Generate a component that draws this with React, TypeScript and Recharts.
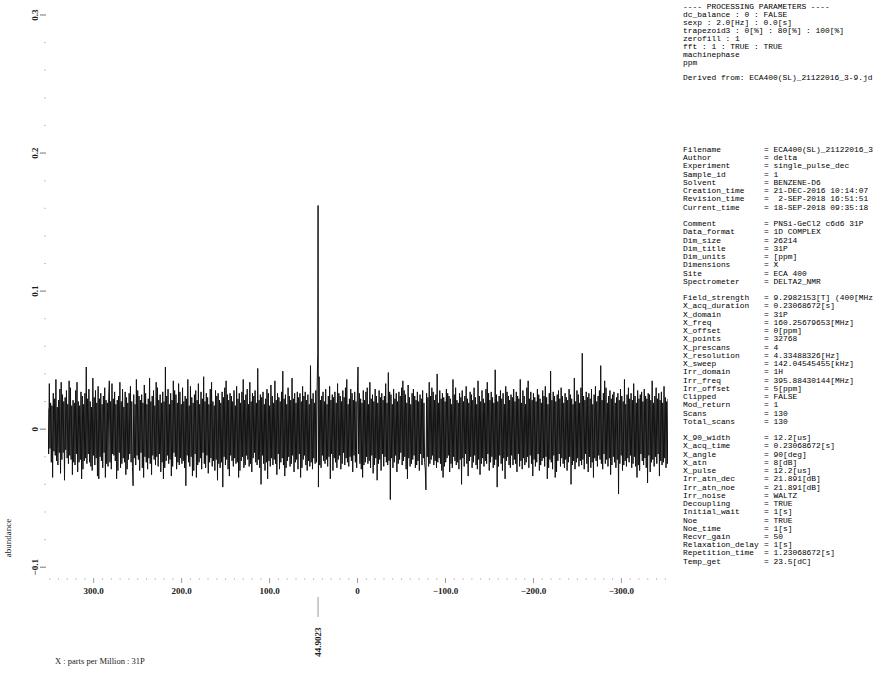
import { LineChart, Line, XAxis, YAxis } from "recharts"

// 31P spectrum, sampled every 0.75 ppm from 352 ppm downwards (values in 1/1000 abundance)
const shiftStart = 352
const shiftStep = 0.75

const noise1 = [
  15, -18, 33, -14, 19, -24, 17, -35, 26, -16, 22, -19, 36, -23, 16, -26, 21, -17, 29, -32,
  34, -22, 25, -17, 20, -37, 23, -15, 28, -21, 18, -25, 35, -19, 30, -22, 17, -33, 21, -24,
  19, -26, 28, -18, 34, -31, 20, -24, 17, -22, 27, -36, 24, -29, 18, -23, 26, -21, 45, -25,
  22, -18, 29, -24, 20, -27, 16, -30, 37, -19, 23, -26, 28, -21, 19, -34, 31, -36, 22, -20,
  26, -23, 18, -28, 24, -17, 30, -35, 21, -25, 19, -27, 23, 35, -24, 20, -29, 33, -18, 22,
]
const noise2 = [
  -19, 27, -23, 18, -36, 21, -30, 24, -17, 34, -28, 20, -25, 29, -21, 16, -24, 27, -33, 23,
  -29, 19, -22, 26, -18, 31, -24, 20, -27, -41, 25, -21, 18, -26, 36, -19, 28, -22, 24, -30,
  21, -17, 25, -28, 19, -35, 32, -20, 26, -24, 18, -29, 22, -21, 37, -25, 20, -33, 24, -19,
  28, -22, 17, -26, 34, -20, 30, -27, 21, -18, 25, -31, 19, -24, 27, -36, 20, -28, 45, -23,
  24, -19, 29, -25, 18, -22, 26, -34, 21, -27, 35, -17, 28, -20, 25, -29, 19, -24, 33, -26,
]
const noise3 = [
  27, -21, 18, -25, 30, -23, 20, -28, 24, -41, 22, -19, 36, -24, 17, -27, 31, -20, 23, -34,
  19, -30, 25, -18, 28, -35, 21, -26, 33, -24, 18, -21, 27, -29, 22, -17, 38, -25, 20, -28,
  26, -19, 23, -32, 18, -24, 29, -21, 34, -27, 20, -23, 17, -30, 28, -22, 24, -37, 26, -25,
  21, -28, 19, -24, 27, -42, 23, -20, 30, -26, 35, -22, 25, -29, 21, -34, 26, -19, 24, -23,
  20, -27, 28, -21, 17, -25, 31, -24, 22, -35, 26, -30, 19, -23, 27, -20, 36, -28, 21, -26,
]
const noise4 = [
  25, -19, 29, -22, 18, -27, 34, -25, 20, -31, 26, -21, 24, -17, 28, -24, 19, -26, 44, -22,
  21, -28, 25, -40, 23, -19, 27, -25, 18, -30, 22, -24, 29, -36, 26, -23, 17, -27, 32, -21,
  24, -26, 19, -22, 35, -25, 21, -33, 26, -18, 23, -29, 20, -24, 27, -21, 42, -26, 22, -34,
  25, -28, 18, -23, 30, -20, 24, -27, 21, -25, 37, -19, 22, -31, 26, -24, 19, -22, 27, -29,
  23, -18, 26, -35, 20, -28, 31, -22, 24, -19, 27, -26, 21, -30, 25, -23, 18, -27, 46, -24,
]
const noise5 = [
  22, -29, 26, -21, 19, -25, 28, -24, 30, 55, -42, 38, -26, 21, -28, 24, -19, 27, -23, 20,
  -25, 29, -22, 18, -27, 24, -20, 31, -36, 21, -18, 25, -30, 23, -21, 27, -24, 19, -28, 33,
  -22, 26, -19, 24, -29, 20, -25, 28, -17, 23, -26, 30, -21, 36, -24, 18, -27, 22, -20, 29,
  -23, 26, -31, 21, -19, 27, -24, 20, -28, 24, 45, -18, 26, -25, 22, -29, 19, -35, 28, -26,
  21, -24, 27, -20, 30, -25, 18, -23, 34, -28, 22, -19, 25, -32, 20, -26, 29, -21, 24, -37,
]
const noise6 = [
  19, -25, 28, -22, 23, -30, 26, -18, 21, -27, 24, -20, 33, -24, 19, -26, 41, -23, 27, -51,
  25, -21, 18, -28, 29, -24, 22, -19, 26, -31, 20, -25, 27, -22, 24, -17, 30, -26, 35, -23,
  28, -20, 25, -29, 19, -36, 32, -21, 23, -27, 18, -25, 26, -22, 29, -19, 24, -28, 21, -26,
  27, -23, 20, -30, 25, -18, 22, -26, 28, -21, 19, -24, -29, -44, 26, -20, 23, -27, 34, -25,
  24, -22, 30, -19, 27, -26, 21, -23, 25, -28, 40, -24, 19, -21, 28, -25, 22, -30, 26, -35,
]
const noise7 = [
  23, -27, 20, -24, 29, -21, 26, -19, 24, -31, 22, -25, 18, -28, 36, -20, 25, -23, 30, -26,
  21, -24, 19, -29, 26, -22, 23, -40, 28, -21, 20, -27, 24, -18, 31, -25, 22, -34, 19, -23,
  27, -20, 25, -28, 21, -24, 30, -19, 23, -26, 18, -29, 35, -22, 24, -33, 20, -25, 28, -21,
  22, -27, 19, -23, 29, -25, 34, -18, 26, -30, 21, -24, 27, -20, 23, -28, 19, -26, 43, -22,
  25, -42, 20, -27, 24, -19, 28, -25, 22, -30, 26, -21, 18, -36, 31, -23, 27, -20, 24, -26,
]
const noise8 = [
  21, -28, 25, -19, 23, -26, 29, -22, 20, -25, 27, -31, 24, -18, 22, -27, 36, -23, 19, -29,
  28, -21, 24, -26, 18, -24, 30, -20, 35, -28, 22, -19, 27, -25, 21, -34, 26, -22, 23, -27,
  20, -24, 29, -18, 25, -30, 22, -26, 19, -23, 28, -21, 24, -27, 31, -20, 23, -36, 18, -28,
  26, -22, 42, -24, 21, -29, 27, -19, 24, -35, 20, -31, 25, -23, 28, -18, 22, -27, 30, -21,
  24, -25, 19, -28, 26, -22, 23, -30, 21, -24, 29, -20, 25, -40, 22, -26, 18, -23, 37, -29,
]
const noise9 = [
  20, -24, 28, -21, 25, -27, 19, -23, 30, -26, 55, -22, 24, -29, 21, -18, 27, -25, 23, -31,
  26, -20, 22, -28, 29, -24, 18, -35, 25, -21, 31, -23, 20, -27, 24, -19, 28, -22, 46, -25,
  21, -29, 26, -18, 35, -25, 30, -22, 19, -27, 24, -21, 28, -33, 22, -26, 25, -20, 27, -24,
  19, -28, 23, -22, 26, -47, 21, -25, 29, -19, 24, -30, 20, -26, 36, -23, 18, -27, 25, -21,
  30, -24, 22, -19, 26, -28, 21, -25, 33, -20, 24, -27, 19, -35, 28, -26, 22, -30, 25, -18,
]
const noise10 = [
  27, -23, 20, -26, 29, -21, 24, -28, 22, -39, 26, -19, 25, -31, 21, -24, 35, -22, 19, -27,
  24, -20, 30, -25, 22, -18, 26, -34, 21, -23, 27, -26, 19, -24, 31, -21, 23, -28, 20, -25,
  22,
]

const peakShift = 44.9023
const peakHeight = 0.162

const xTickLabels = [300, 200, 100, 0, -100, -200, -300]
const yTickLabels = [0.3, 0.2, 0.1, 0, -0.1]

const processingLines = [
  "---- PROCESSING PARAMETERS ----",
  "dc_balance : 0 : FALSE",
  "sexp : 2.0[Hz] : 0.0[s]",
  "trapezoid3 : 0[%] : 80[%] : 100[%]",
  "zerofill : 1",
  "fft : 1 : TRUE : TRUE",
  "machinephase",
  "ppm",
]
const derivedFrom = "Derived from: ECA400(SL)_21122016_3-9.jd"

const headerRows: [string, string][] = [
  ["Filename", "= ECA400(SL)_21122016_3"],
  ["Author", "= delta"],
  ["Experiment", "= single_pulse_dec"],
  ["Sample_id", "= 1"],
  ["Solvent", "= BENZENE-D6"],
  ["Creation_time", "= 21-DEC-2016 10:14:07"],
  ["Revision_time", "=  2-SEP-2018 16:51:51"],
  ["Current_time", "= 18-SEP-2018 09:35:18"],
  ["", ""],
  ["Comment", "= PNSi-GeCl2 c6d6 31P"],
  ["Data_format", "= 1D COMPLEX"],
  ["Dim_size", "= 26214"],
  ["Dim_title", "= 31P"],
  ["Dim_units", "= [ppm]"],
  ["Dimensions", "= X"],
  ["Site", "= ECA 400"],
  ["Spectrometer", "= DELTA2_NMR"],
  ["", ""],
  ["Field_strength", "= 9.2982153[T] (400[MHz"],
  ["X_acq_duration", "= 0.23068672[s]"],
  ["X_domain", "= 31P"],
  ["X_freq", "= 160.25679653[MHz]"],
  ["X_offset", "= 0[ppm]"],
  ["X_points", "= 32768"],
  ["X_prescans", "= 4"],
  ["X_resolution", "= 4.33488326[Hz]"],
  ["X_sweep", "= 142.04545455[kHz]"],
  ["Irr_domain", "= 1H"],
  ["Irr_freq", "= 395.88430144[MHz]"],
  ["Irr_offset", "= 5[ppm]"],
  ["Clipped", "= FALSE"],
  ["Mod_return", "= 1"],
  ["Scans", "= 130"],
  ["Total_scans", "= 130"],
  ["", ""],
  ["X_90_width", "= 12.2[us]"],
  ["X_acq_time", "= 0.23068672[s]"],
  ["X_angle", "= 90[deg]"],
  ["X_atn", "= 8[dB]"],
  ["X_pulse", "= 12.2[us]"],
  ["Irr_atn_dec", "= 21.891[dB]"],
  ["Irr_atn_noe", "= 21.891[dB]"],
  ["Irr_noise", "= WALTZ"],
  ["Decoupling", "= TRUE"],
  ["Initial_wait", "= 1[s]"],
  ["Noe", "= TRUE"],
  ["Noe_time", "= 1[s]"],
  ["Recvr_gain", "= 50"],
  ["Relaxation_delay", "= 1[s]"],
  ["Repetition_time", "= 1.23068672[s]"],
  ["Temp_get", "= 23.5[dC]"],
]

const spectrum = [
  ...noise1, ...noise2, ...noise3, ...noise4, ...noise5,
  ...noise6, ...noise7, ...noise8, ...noise9, ...noise10,
]
  .map((m, i) => ({ ppm: shiftStart - i * shiftStep, abundance: m / 1000 }))
  .concat([{ ppm: peakShift, abundance: peakHeight }])
  .sort((a, b) => b.ppm - a.ppm)

const xTicks: number[] = [peakShift]
for (let v = 350; v >= -350; v -= 10) xTicks.push(v)
const yTicks: number[] = []
for (let k = -5; k <= 15; k++) yTicks.push(k / 50)

const serif = "'Liberation Serif', 'Times New Roman', serif"
const mono = "'Liberation Mono', 'Courier New', monospace"

const fmtNum = (v: number, digits: number) =>
  v === 0 ? "0" : (v < 0 ? "\u2212" : "") + Math.abs(v).toFixed(digits)

function ShiftTick({ x, y, payload }: any) {
  const v = payload.value
  if (v === peakShift) {
    return (
      <g>
        <line x1={x} x2={x} y1={y + 14} y2={y + 34} stroke="#9a9a9a" strokeWidth={1} />
        <text
          transform={`translate(${x + 3},${y + 59}) rotate(-90)`}
          textAnchor="middle"
          fontFamily={serif}
          fontSize={9}
          fontWeight="bold"
          fill="#1a1a1a"
        >
          {v}
        </text>
      </g>
    )
  }
  const major = xTickLabels.includes(v)
  return (
    <g>
      <line x1={x} x2={x} y1={y - 5} y2={y - (major ? 0 : 3)} stroke={major ? "#999" : "#c8c8c8"} />
      {major && (
        <text x={x} y={y + 11} textAnchor="middle" fontFamily={serif} fontSize={9} fontWeight="bold" fill="#1a1a1a">
          {v === 0 ? "0" : fmtNum(v, 1)}
        </text>
      )}
    </g>
  )
}

function AbundanceTick({ x, y, payload }: any) {
  const v = payload.value
  const major = yTickLabels.some((t) => Math.abs(t - v) < 1e-9)
  return (
    <g>
      <line x1={x - (major ? 6 : 2)} x2={x} y1={y} y2={y} stroke={major ? "#777" : "#c8c8c8"} />
      {major && (
        <text
          transform={`translate(${x - 8},${y}) rotate(-90)`}
          textAnchor="middle"
          fontFamily={serif}
          fontSize={9}
          fontWeight="bold"
          fill="#1a1a1a"
        >
          {fmtNum(v, 1)}
        </text>
      )}
    </g>
  )
}

export default function App() {
  return (
    <div
      style={{
        position: "absolute",
        left: 0,
        top: 0,
        width: 878,
        height: 677,
        overflow: "hidden",
        background: "#fff",
      }}
    >
      <LineChart
        width={878}
        height={677}
        data={spectrum}
        margin={{ top: 15, right: 210, bottom: 95, left: 47 }}
      >
        <XAxis
          dataKey="ppm"
          type="number"
          domain={[-353, 352]}
          reversed
          ticks={xTicks}
          interval={0}
          height={1}
          axisLine={false}
          tickLine={false}
          tickSize={0}
          tick={<ShiftTick />}
          allowDataOverflow
        />
        <YAxis
          type="number"
          domain={[-0.11, 0.3]}
          ticks={yTicks}
          interval={0}
          width={1}
          axisLine={false}
          tickLine={false}
          tickSize={0}
          tick={<AbundanceTick />}
          allowDataOverflow
        />
        <Line
          type="linear"
          dataKey="abundance"
          stroke="#111"
          strokeWidth={1}
          dot={false}
          isAnimationActive={false}
        />
      </LineChart>

      <div
        style={{
          position: "absolute",
          left: 8,
          top: 538,
          transform: "translate(-50%, -50%) rotate(-90deg)",
          fontFamily: serif,
          fontSize: 9,
          color: "#1a1a1a",
          whiteSpace: "nowrap",
        }}
      >
        abundance
      </div>
      <div
        style={{
          position: "absolute",
          left: 55,
          top: 656,
          fontFamily: serif,
          fontSize: 8.5,
          color: "#1a1a1a",
          whiteSpace: "nowrap",
        }}
      >
        X : parts per Million : 31P
      </div>

      <div
        style={{
          position: "absolute",
          left: 683,
          top: 3,
          fontFamily: mono,
          fontSize: 7.9,
          lineHeight: "8px",
          color: "#000",
          whiteSpace: "pre",
        }}
      >
        {processingLines.map((line, i) => (
          <div key={i}>{line}</div>
        ))}
        <div style={{ marginTop: 7 }}>{derivedFrom}</div>
      </div>

      <div
        style={{
          position: "absolute",
          left: 683,
          top: 146,
          fontFamily: mono,
          fontSize: 7.9,
          lineHeight: "8.24px",
          color: "#000",
          whiteSpace: "pre",
        }}
      >
        {headerRows.map(([label, value], i) => (
          <div key={i} style={{ position: "relative", height: 8.24 }}>
            <span>{label}</span>
            <span style={{ position: "absolute", left: 81 }}>{value}</span>
          </div>
        ))}
      </div>
    </div>
  )
}
